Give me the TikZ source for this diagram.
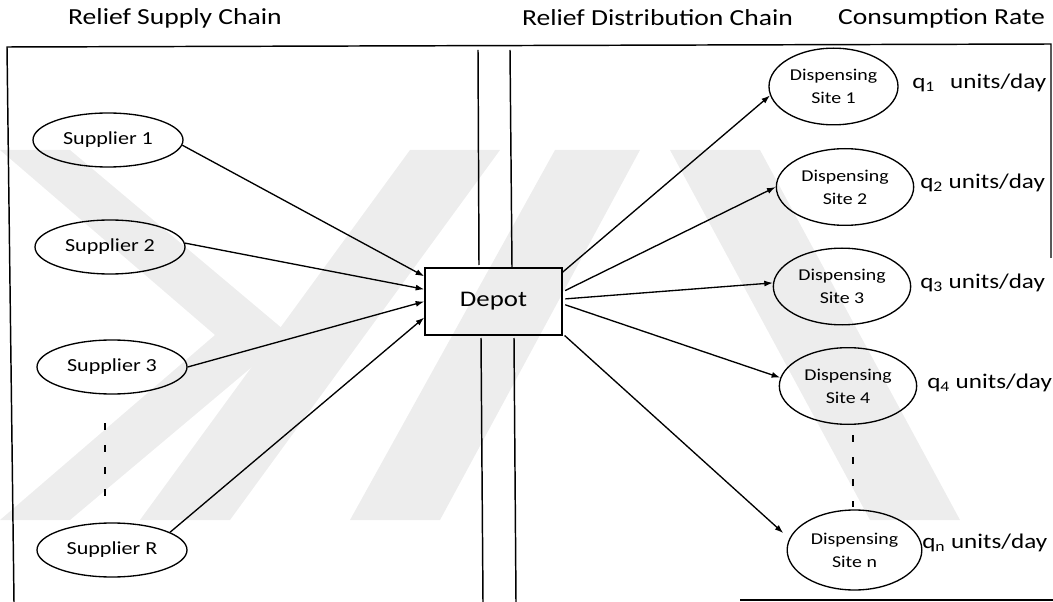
\documentclass[tikz,border=0pt]{standalone}
\usepackage{fontspec}
\setmainfont{Carlito}[FakeStretch=1.2]
\usetikzlibrary{shapes.geometric,arrows.meta}

\begin{document}
\begin{tikzpicture}[x=0.75pt,y=-0.75pt,
  every node/.style={inner sep=0pt},
  heading/.style={font=\fontsize{17.25}{20}\selectfont},
  supplier/.style={draw,ellipse,line width=1pt,minimum width=112.5pt,minimum height=40.5pt,
    font=\fontsize{13.8}{16}\selectfont},
  site/.style={draw,ellipse,line width=1pt,minimum width=103pt,minimum height=57.5pt,
    align=center,font=\fontsize{12.4}{17.25}\selectfont},
  depotbox/.style={draw,rectangle,line width=1pt,minimum width=102.75pt,minimum height=50.25pt,
    font=\fontsize{16.75}{20}\selectfont},
  rate/.style={anchor=west,font=\fontsize{15.7}{18}\selectfont},
  flow/.style={line width=1pt,-{Latex[length=6.5pt,width=4.5pt]}},
  border/.style={line width=1.1pt},
  dots/.style={line width=1.1pt,dash pattern=on 5.25pt off 11.25pt},
  shade/.style={fill=black!7,draw=none}
]
\useasboundingbox (0,0) rectangle (1053,602);

% faint background emblem
\fill[shade] (0,150) -- (70,150) -- (290,335) -- (70,520) -- (0,520) -- (215,335) -- cycle;
\fill[shade] (140,520) -- (230,520) -- (500,150) -- (410,150) -- cycle;
\fill[shade] (350,520) -- (440,520) -- (640,150) -- (555,150) -- cycle;
\fill[shade] (670,150) -- (760,150) -- (960,520) -- (870,520) -- cycle;

% headings
\node[heading] (hsupply) at (175,18) {Relief Supply Chain};
\node[heading] (hdist) at (657.5,18) {Relief Distribution Chain};
\node[heading] (hrate) at (941.5,18) {Consumption Rate};

% outer frame
\coordinate (ftl) at (7,47);
\coordinate (ftr) at (1051,44);
\coordinate (fbl) at (14,602);
\coordinate (frb) at (1051,258);
\coordinate (fb1) at (740,600);
\coordinate (fb2) at (1053,600);
\draw[border] (fbl) -- (ftl) -- (ftr) -- (frb);
\draw[border] (fb1) -- (fb2);

% chain separator
\coordinate (la1) at (478,50);
\coordinate (la2) at (479,265);
\coordinate (ra1) at (510,50);
\coordinate (ra2) at (512,267);
\coordinate (lb1) at (481,338);
\coordinate (lb2) at (483,602);
\coordinate (rb1) at (514,338);
\coordinate (rb2) at (516,602);
\draw[border] (la1) -- (la2);
\draw[border] (ra1) -- (ra2);
\draw[border] (lb1) -- (lb2);
\draw[border] (rb1) -- (rb2);

% depot
\node[depotbox] (depot) at (493.5,301.5) {Depot};

% suppliers
\node[supplier] (s1) at (108,140) {Supplier 1};
\node[supplier] (s2) at (110,247) {Supplier 2};
\node[supplier] (s3) at (112,367) {Supplier 3};
\node[supplier] (sR) at (112,550) {Supplier R};
\coordinate (sd1) at (105,423);
\coordinate (sd2) at (105,497);
\draw[dots] (sd1) -- (sd2);

% dispensing sites
\node[site,minimum width=96.75pt] (d1) at (833.5,86.5) {Dispensing\\Site 1};
\node[site] (d2) at (845,187) {Dispensing\\Site 2};
\node[site] (d3) at (842,286.5) {Dispensing\\Site 3};
\node[site] (d4) at (848,386) {Dispensing\\Site 4};
\node[site,minimum width=101pt,minimum height=60pt] (dn) at (854.5,550) {Dispensing\\Site n};
\coordinate (dd1) at (853,435);
\coordinate (dd2) at (853,507);
\draw[dots] (dd1) -- (dd2);

% consumption rates
\node[rate] (q1) at (912,83) {q\textsubscript{1}\hspace{0.45em} units/day};
\node[rate] (q2) at (920,183) {q\textsubscript{2} units/day};
\node[rate] (q3) at (920,283) {q\textsubscript{3} units/day};
\node[rate] (q4) at (927,383) {q\textsubscript{4} units/day};
\node[rate] (qn) at (922,543) {q\textsubscript{n} units/day};

% supply flows into the depot
\draw[flow] (s1.-4) -- (depot.160);
\draw[flow] (s2.3) -- (depot.170.5);
\draw[flow] (s3.east) -- (depot.180);
\draw[flow] (sR.17) -- (depot.193);

% distribution flows out of the depot
\draw[flow] (depot.23) -- (d1.188);
\draw[flow,shorten <=2pt] (depot.8) -- (d2.180);
\draw[flow,shorten <=2pt] (depot.2) -- (d3.177);
\draw[flow,shorten <=2pt] (depot.-2) -- (d4.173);
\draw[flow,shorten <=2pt,shorten >=6pt] (depot.-25) -- (dn.170);
\end{tikzpicture}
\end{document}
